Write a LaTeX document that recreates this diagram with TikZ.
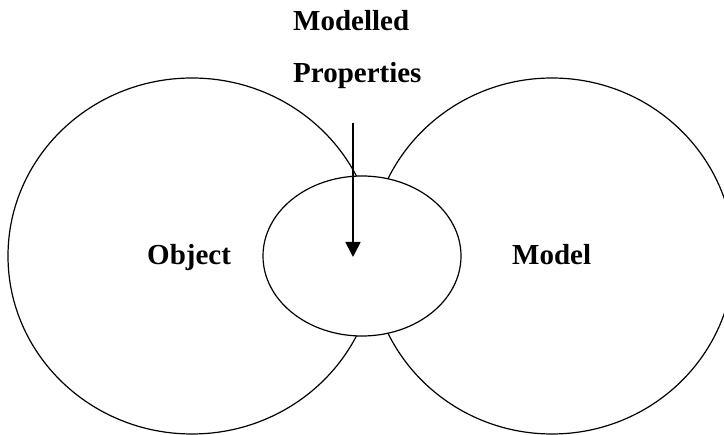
\documentclass[tikz,border=0pt]{standalone}
\usepackage{fontspec}
\setmainfont{Liberation Serif}
\usetikzlibrary{shapes.geometric,arrows.meta}
\begin{document}
\begin{tikzpicture}[x=1pt,y=-1pt,
  region/.style={draw=black,line width=1.2pt,ellipse,inner sep=0pt,outer sep=0pt},
  lbl/.style={font=\fontsize{29}{31}\selectfont\bfseries,inner sep=0pt,anchor=base west},
  pointer/.style={line width=1.8pt,-{Triangle[length=15pt,width=15pt]}}]
\useasboundingbox (0,0) rectangle (724,435);
% the two overlapping domains
\node[region,minimum width=368pt,minimum height=356pt] (object) at (192,256) {};
\node[region,minimum width=364pt,minimum height=356pt] (model) at (552,256) {};
% shared part, drawn on top
\node[region,fill=white,minimum width=198pt,minimum height=160pt] (shared) at (362,256) {};
% labels
\node[lbl] (objlbl) at (147,264.5) {Object};
\node[lbl] (modlbl) at (512,264.5) {Model};
\node[lbl] (title1) at (293,31) {Modelled};
\node[lbl] (title2) at (293,83) {Properties};
% pointer into the shared part
\coordinate (ptrstart) at (353,123);
\coordinate (ptrend) at (353,257);
\draw[pointer] (ptrstart) -- (ptrend);
\end{tikzpicture}
\end{document}
